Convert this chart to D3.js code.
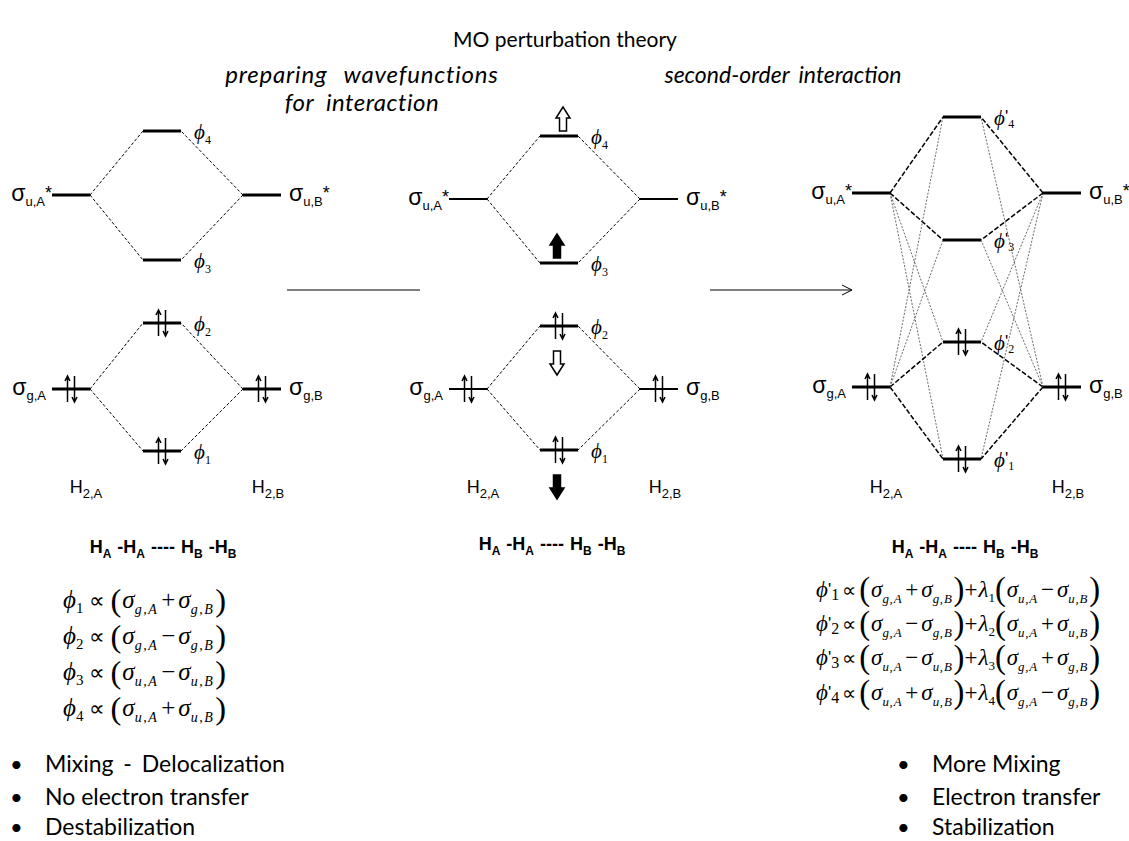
<!DOCTYPE html>
<html>
<head>
<meta charset="utf-8">
<script src="https://cdn.jsdelivr.net/npm/d3@7"></script>
<style>
  body { margin: 0; background: #fff; }
</style>
</head>
<body>
<svg></svg>
<script>
const width = 1129;
const height = 841;

// energies in arbitrary units, one value per panel
const panels = ["start", "prepared", "second"];
const fragSigmaU = [30.5, 30.1, 30.7];
const fragSigmaG = [11.1, 11.1, 11.3];
// MO energies phi1..phi4 for each panel
const moStart = [4.9, 17.7, 24.0, 36.9];
const moPrepared = [5.0, 17.4, 23.7, 36.4];
const moSecond = [4.1, 15.8, 26.0, 38.3];
const moElectrons = [2, 2, 0, 0];
const moParent = ["g", "g", "u", "u"];
// block arrows in the middle panel: which MO, direction, filled or open
const shiftMo = [3, 2, 1, 0];
const shiftDir = ["up", "up", "down", "down"];
const shiftFilled = [false, true, false, true];

const leftSigns = ["+", "−", "−", "+"];
const leftKind = ["g", "g", "u", "u"];
const rightMixKind = ["u", "u", "g", "g"];
const rightMixSign = ["−", "+", "+", "−"];
const leftBullets = ["Mixing - Delocalization", "No electron transfer", "Destabilization"];
const rightBullets = ["More Mixing", "Electron transfer", "Stabilization"];

const svg = d3.select("svg")
  .attr("width", width)
  .attr("height", height)
  .style("font-family", "Lato");

const y = d3.scaleLinear().domain([0, 40]).range([500, 100]);
const col = d3.scaleOrdinal().domain(["A", "MO", "B"]).range([71, 162, 262]);
const panelX = d3.scaleOrdinal().domain(panels).range([0, 397, 800]);
const half = 19;

const SANS = "Liberation Sans";
const SERIF = "Liberation Serif";

// lay text pieces one after the other
function rich(parent, x, yy, parts, anchor) {
  const g = parent.append("g");
  let cx = 0;
  parts.forEach(p => {
    if (p.gap !== undefined && p.s === undefined) { cx += p.gap; return; }
    const t = g.append("text")
      .attr("x", cx)
      .attr("y", p.dy || 0)
      .attr("font-family", p.font || SERIF)
      .attr("font-size", p.size)
      .attr("font-style", p.italic ? "italic" : null)
      .attr("font-weight", p.bold ? "bold" : null)
      .attr("letter-spacing", p.ls || null)
      .text(p.s);
    cx += t.node().getComputedTextLength();
  });
  const shift = anchor === "end" ? -cx : anchor === "middle" ? -cx / 2 : 0;
  g.attr("transform", `translate(${x + shift},${yy})`);
  return g;
}

// title
svg.append("text").attr("x", 565).attr("y", 47).attr("text-anchor", "middle")
  .attr("font-size", 21).text("MO perturbation theory");
svg.append("text").attr("x", 362).attr("y", 83).attr("text-anchor", "middle")
  .attr("font-size", 24).attr("font-style", "italic").attr("word-spacing", 10)
  .attr("letter-spacing", 0.8)
  .text("preparing wavefunctions");
svg.append("text").attr("x", 362).attr("y", 111).attr("text-anchor", "middle")
  .attr("font-size", 24).attr("font-style", "italic").attr("word-spacing", 6)
  .attr("letter-spacing", 0.5)
  .text("for interaction");
svg.append("text").attr("x", 783).attr("y", 83).attr("text-anchor", "middle")
  .attr("font-size", 23).attr("font-style", "italic").attr("word-spacing", 4)
  .text("second-order interaction");

// arrows between panels
svg.append("line").attr("x1", 287).attr("x2", 420).attr("y1", 290).attr("y2", 290)
  .attr("stroke", "#000").attr("stroke-width", 1);
svg.append("line").attr("x1", 710).attr("x2", 852).attr("y1", 290).attr("y2", 290)
  .attr("stroke", "#000").attr("stroke-width", 1);
svg.append("path").attr("d", "M842,285 L852,290 L842,295")
  .attr("fill", "none").attr("stroke", "#000").attr("stroke-width", 1);

function electrons(g, cx, cy) {
  const h = 13;
  g.append("path")
    .attr("d", `M${cx - 3.5},${cy + h} L${cx - 3.5},${cy - h} M${cx - 6},${cy - h + 5} L${cx - 3.5},${cy - h} L${cx - 1},${cy - h + 5}`)
    .attr("fill", "none").attr("stroke", "#000").attr("stroke-width", 1.5);
  g.append("path")
    .attr("d", `M${cx + 3.5},${cy - h} L${cx + 3.5},${cy + h} M${cx + 1},${cy + h - 5} L${cx + 3.5},${cy + h} L${cx + 6},${cy + h - 5}`)
    .attr("fill", "none").attr("stroke", "#000").attr("stroke-width", 1.5);
}

function sigmaLabel(g, x, yy, kind, side, anchor) {
  const parts = [
    { s: "σ", font: SANS, size: 23 },
    { s: kind + "," + side, font: SANS, size: 13, dy: 5 }
  ];
  if (kind === "u") parts.push({ s: "*", font: SANS, size: 18, dy: -2 });
  return rich(g, x, yy + 6, parts, anchor);
}

function block(g, cx, top, dir, filled) {
  const hw = 7, sw = 3.5, len = 24, head = 11;
  let pts;
  if (dir === "up") {
    pts = [[cx, top], [cx + hw, top + head], [cx + sw, top + head], [cx + sw, top + len],
           [cx - sw, top + len], [cx - sw, top + head], [cx - hw, top + head]];
  } else {
    pts = [[cx, top + len], [cx + hw, top + len - head], [cx + sw, top + len - head], [cx + sw, top],
           [cx - sw, top], [cx - sw, top + len - head], [cx - hw, top + len - head]];
  }
  g.append("polygon").attr("points", pts.map(p => p.join(",")).join(" "))
    .attr("fill", filled ? "#000" : "#fff").attr("stroke", "#000").attr("stroke-width", 1.5);
}

const moSets = [moStart, moPrepared, moSecond];

panels.forEach((p, pi) => {
  const g = svg.append("g").attr("transform", `translate(${panelX(p)},0)`);
  const mos = moSets[pi];
  const frag = { u: fragSigmaU[pi], g: fragSigmaG[pi] };
  const second = p === "second";

  // connecting lines
  mos.forEach((e, i) => {
    ["u", "g"].forEach(k => {
      const strong = moParent[i] === k;
      if (!strong && !second) return;
      [["A", -1], ["B", 1]].forEach(([side, s]) => {
        const fx = col(side) - s * half;
        const mx = col("MO") + s * half;
        g.append("line")
          .attr("x1", fx).attr("y1", y(frag[k]))
          .attr("x2", mx).attr("y2", y(e))
          .attr("stroke", strong ? "#000" : "#444")
          .attr("stroke-width", strong ? (second ? 1.5 : 1) : 0.8)
          .attr("stroke-dasharray", strong ? (second ? "5,2" : "3,2") : "2,1.5");
      });
    });
  });

  // fragment levels
  ["A", "B"].forEach(side => {
    ["u", "g"].forEach(k => {
      const cx = col(side);
      g.append("line")
        .attr("x1", cx - half).attr("x2", cx + half)
        .attr("y1", y(frag[k])).attr("y2", y(frag[k]))
        .attr("stroke", "#000").attr("stroke-width", p === "prepared" ? 2.2 : 3);
      if (k === "g") electrons(g, cx, y(frag[k]));
      if (side === "A") sigmaLabel(g, cx - half - (k === "u" ? 0 : 6), y(frag[k]), k, "A", "end");
      else sigmaLabel(g, cx + half + 8, y(frag[k]), k, "B", "start");
    });
  });

  // MO levels
  mos.forEach((e, i) => {
    const cx = col("MO");
    g.append("line")
      .attr("x1", cx - half).attr("x2", cx + half)
      .attr("y1", y(e)).attr("y2", y(e))
      .attr("stroke", "#000").attr("stroke-width", 3);
    if (moElectrons[i] === 2) electrons(g, cx, y(e));
    const parts = [{ s: "ϕ", size: 21, italic: true }];
    if (second) parts.push({ s: "'", font: SANS, size: 17, dy: -3 });
    parts.push({ s: String(i + 1), size: 12, dy: second ? 3 : 5 });
    rich(g, cx + half + 13, y(e) + 8, parts, "start");
  });

  // H2 labels
  [["A", 86], ["B", 268]].forEach(([side, x]) => {
    rich(g, x, 493, [
      { s: "H", font: SANS, size: 18 },
      { s: "2," + side, font: SANS, size: 13, dy: 5 }
    ], "middle");
  });

  // middle panel block arrows
  if (p === "prepared") {
    shiftMo.forEach((m, j) => {
      const ly = y(mos[m]);
      const top = shiftDir[j] === "up" ? ly - 29 : ly + 25;
      block(g, col("MO") + (j === 0 ? 4 : -2), top, shiftDir[j], shiftFilled[j]);
    });
  }
});

// H_A-H_A ---- H_B-H_B
function chainLabel(x, yy) {
  const b = { font: SANS, size: 18, bold: true };
  const s = (t) => ({ s: t, font: SANS, size: 12, bold: true, dy: 5 });
  rich(svg, x, yy, [
    { ...b, s: "H" }, s("A"), { gap: 6 }, { ...b, s: "-H" }, s("A"), { gap: 6 },
    { ...b, s: "----" }, { gap: 6 }, { ...b, s: "H" }, s("B"), { gap: 6 }, { ...b, s: "-H" }, s("B")
  ], "middle");
}
chainLabel(163, 553);
chainLabel(552, 550);
chainLabel(965, 553);

// formulas
function sigmaPair(kind, sign, fs, ls, pf) {
  return [
    { s: "(", size: fs * pf, dy: 3 }, { gap: 1 },
    { s: "σ", size: fs, italic: true },
    { s: kind + ",A", size: fs * 0.56, italic: true, dy: 6, ls: ls }, { gap: 3 },
    { s: sign, size: fs }, { gap: 3 },
    { s: "σ", size: fs, italic: true },
    { s: kind + ",B", size: fs * 0.56, italic: true, dy: 6, ls: ls }, { gap: 1 },
    { s: ")", size: fs * pf, dy: 3 }
  ];
}
const leftRowY = [608, 644, 680, 716];
leftSigns.forEach((sign, i) => {
  rich(svg, 63, leftRowY[i], [
    { s: "ϕ", size: 25, italic: true },
    { s: String(i + 1), size: 15, dy: 5 }, { gap: 6 },
    { s: "∝", size: 22 }, { gap: 5 },
    ...sigmaPair(leftKind[i], sign, 25, 1.5, 1.3)
  ], "start");
});

const rightRowY = [597, 631, 665, 700];
leftSigns.forEach((sign, i) => {
  rich(svg, 816, rightRowY[i], [
    { s: "ϕ", size: 23, italic: true },
    { s: "'", font: SANS, size: 17, dy: -2 },
    { s: String(i + 1), size: 16, dy: 3 }, { gap: 3 },
    { s: "∝", size: 20 }, { gap: 3 },
    ...sigmaPair(leftKind[i], sign, 23, 0.8, 1.42),
    { s: "+", size: 23 }, { gap: 1 },
    { s: "λ", size: 23, italic: true },
    { s: String(i + 1), size: 13, dy: 5 },
    ...sigmaPair(rightMixKind[i], rightMixSign[i], 23, 0.8, 1.42)
  ], "start");
});

// bullets
const bulletY = [772, 805, 835];
leftBullets.forEach((t, i) => {
  svg.append("text").attr("x", 10).attr("y", bulletY[i]).attr("font-size", 22).text("•");
  svg.append("text").attr("x", 45).attr("y", bulletY[i]).attr("font-size", 23)
    .attr("word-spacing", i === 0 ? 4 : null).text(t);
});
rightBullets.forEach((t, i) => {
  svg.append("text").attr("x", 897).attr("y", bulletY[i]).attr("font-size", 22).text("•");
  svg.append("text").attr("x", 932).attr("y", bulletY[i]).attr("font-size", 23).text(t);
});
</script>
</body>
</html>
